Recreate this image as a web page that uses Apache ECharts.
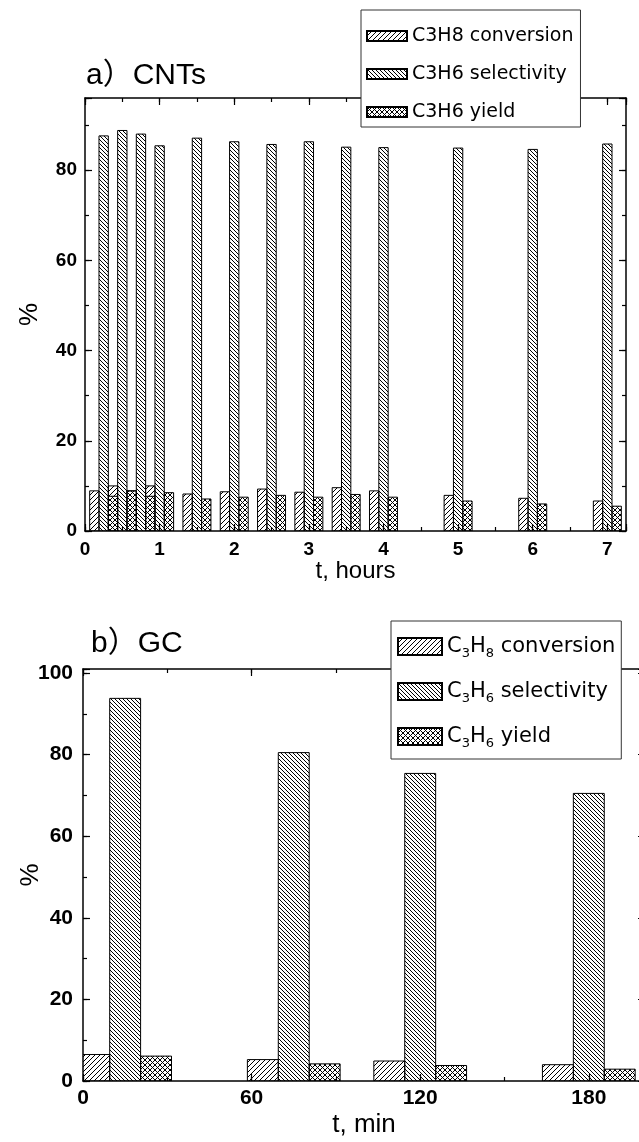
<!DOCTYPE html>
<html>
<head>
<meta charset="utf-8">
<script src="https://cdn.jsdelivr.net/npm/echarts@6/dist/echarts.min.js"></script>
<style>
html,body{margin:0;padding:0;background:#fff;}
#chart{width:639px;height:1142px;}
</style>
</head>
<body>
<div id="chart"></div>
<script>
// ---- data ----
const seriesNames = ['C3H8 conversion', 'C3H6 selectivity', 'C3H6 yield'];

const cntTimes = [0.25, 0.5, 0.75, 1, 1.5, 2, 2.5, 3, 3.5, 4, 5, 6, 7];
const cntConversion = [8.9, 10.0, 8.9, 10.0, 8.2, 8.7, 9.3, 8.6, 9.6, 8.9, 7.9, 7.25, 6.65];
const cntSelectivity = [87.6, 88.8, 88.0, 85.4, 87.1, 86.3, 85.7, 86.3, 85.1, 85.0, 84.9, 84.6, 85.8];
const cntYield = [7.7, 8.9, 7.7, 8.5, 7.1, 7.5, 7.9, 7.5, 8.1, 7.5, 6.65, 6.0, 5.5];

const gcTimes = [15, 75, 120, 180];
const gcConversion = [6.5, 5.25, 4.9, 4.0];
const gcSelectivity = [93.8, 80.5, 75.4, 70.5];
const gcYield = [6.1, 4.2, 3.8, 2.9];

const cntXTicks = { min: 0, max: 7.25, interval: 1, minor: 0.5 };
const cntYTicks = { min: 0, max: 96, interval: 20, minor: 10 };
const gcXTicks = { min: 0, max: 200, interval: 60, minor: 30 };
const gcYTicks = { min: 0, max: 101, interval: 20, minor: 10 };

// ---- patterns ----
function makePattern(kind) {
  const s = kind === 'sel' ? 4 : 5;
  const c = document.createElement('canvas');
  c.width = s; c.height = s;
  const g = c.getContext('2d');
  g.strokeStyle = '#000';
  g.lineWidth = 1;
  function fwd() { // "/"
    g.beginPath();
    g.moveTo(0, s); g.lineTo(s, 0);
    g.moveTo(-1, 1); g.lineTo(1, -1);
    g.moveTo(s - 1, s + 1); g.lineTo(s + 1, s - 1);
    g.stroke();
  }
  function back() { // "\"
    g.beginPath();
    g.moveTo(0, 0); g.lineTo(s, s);
    g.moveTo(-1, s - 1); g.lineTo(1, s + 1);
    g.moveTo(s - 1, -1); g.lineTo(s + 1, 1);
    g.stroke();
  }
  if (kind === 'conv') fwd();
  if (kind === 'sel') back();
  if (kind === 'yield') { fwd(); back(); }
  return { image: c, repeat: 'repeat' };
}
const patterns = [makePattern('conv'), makePattern('sel'), makePattern('yield')];

const FONT = "'Liberation Sans', Arial, 'Noto Sans CJK SC', sans-serif";
const LEGEND_FONT = "'DejaVu Sans', Verdana, sans-serif";

const gridTop = { left: 85, top: 98, width: 541, height: 433, outerBoundsMode: 'none', containLabel: false };
const gridBottom = { left: 83, top: 669, width: 562, height: 412, outerBoundsMode: 'none', containLabel: false };

function multipleFormatter(step) {
  return function (v) {
    const r = v / step;
    return Math.abs(r - Math.round(r)) < 1e-9 ? String(v) : '';
  };
}

function axis(gridIndex, position, ticks, major, opts) {
  opts = opts || {};
  const a = {
    type: 'value', gridIndex: gridIndex, position: position,
    min: ticks.min, max: ticks.max,
    interval: major ? ticks.interval : ticks.minor,
    splitLine: { show: false },
    axisLine: { show: major, onZero: false, lineStyle: { color: '#000', width: 1.5 } },
    axisTick: { show: true, inside: true, length: major ? 7 : 4, lineStyle: { color: '#000', width: 1.2 } },
    axisLabel: { show: false }
  };
  if (opts.labels) {
    a.axisLabel = {
      show: true, margin: opts.margin, color: '#000', fontSize: opts.fontSize,
      fontWeight: 'bold', fontFamily: FONT, formatter: multipleFormatter(ticks.interval)
    };
  }
  if (opts.name) {
    a.name = opts.name;
    a.nameLocation = 'middle';
    a.nameGap = opts.nameGap;
    a.nameMoveOverlap = false;
    a.nameTextStyle = { fontSize: opts.nameSize, fontFamily: FONT, color: '#000' };
  }
  return a;
}

const xAxes = [
  axis(0, 'bottom', cntXTicks, true, { labels: true, margin: 9, fontSize: 19, name: 't, hours', nameGap: 28, nameSize: 24 }),
  axis(0, 'top', cntXTicks, true),
  axis(1, 'bottom', cntXTicks, false),
  axis(1, 'top', cntXTicks, false),
  axis(2, 'bottom', gcXTicks, true, { labels: true, margin: 7, fontSize: 21, name: 't, min', nameGap: 31, nameSize: 26 }),
  axis(2, 'top', gcXTicks, true),
  axis(3, 'bottom', gcXTicks, false),
  axis(3, 'top', gcXTicks, false)
];
const yAxes = [
  axis(0, 'left', cntYTicks, true, { labels: true, margin: 8, fontSize: 19, name: '%', nameGap: 42, nameSize: 26 }),
  axis(0, 'right', cntYTicks, true),
  axis(1, 'left', cntYTicks, false),
  axis(1, 'right', cntYTicks, false),
  axis(2, 'left', gcYTicks, true, { labels: true, margin: 10, fontSize: 21, name: '%', nameGap: 39, nameSize: 26 }),
  axis(2, 'right', gcYTicks, true),
  axis(3, 'left', gcYTicks, false),
  axis(3, 'right', gcYTicks, false)
];

function barSeries(name, times, values, xi, yi, slot, width, pattern) {
  return {
    type: 'custom', name: name, xAxisIndex: xi, yAxisIndex: yi, clip: true,
    data: times.map(function (t, i) { return [t, values[i]]; }),
    encode: { x: 0, y: 1 },
    itemStyle: { color: pattern, borderColor: '#000', borderWidth: 1 },
    renderItem: function (params, api) {
      const c = api.value(0) + slot * width;
      const p0 = api.coord([c - width / 2, 0]);
      const p1 = api.coord([c + width / 2, api.value(1)]);
      return {
        type: 'rect',
        shape: { x: p0[0], y: p1[1], width: p1[0] - p0[0], height: p0[1] - p1[1] },
        style: { fill: pattern, stroke: '#000', lineWidth: 1 }
      };
    }
  };
}

const cntW = 0.125, gcW = 11;
const series = [
  barSeries(seriesNames[0], cntTimes, cntConversion, 0, 0, -1, cntW, patterns[0]),
  barSeries(seriesNames[1], cntTimes, cntSelectivity, 0, 0, 0, cntW, patterns[1]),
  barSeries(seriesNames[2], cntTimes, cntYield, 0, 0, 1, cntW, patterns[2]),
  barSeries(seriesNames[0], gcTimes, gcConversion, 4, 4, -1, gcW, patterns[0]),
  barSeries(seriesNames[1], gcTimes, gcSelectivity, 4, 4, 0, gcW, patterns[1]),
  barSeries(seriesNames[2], gcTimes, gcYield, 4, 4, 1, gcW, patterns[2])
];

function subscriptName(name) {
  return '{n|' + name.replace(/(\d)/g, '}{s|$1}{n|') + '}';
}

const option = {
  backgroundColor: '#fff',
  animation: false,
  title: [
    { text: 'a）CNTs', left: 86, top: 61, padding: 0, textStyle: { fontSize: 30, fontWeight: 'normal', fontFamily: FONT, color: '#000' } },
    { text: 'b）GC', left: 91, top: 629, padding: 0, textStyle: { fontSize: 30, fontWeight: 'normal', fontFamily: FONT, color: '#000' } }
  ],
  legend: [
    {
      data: seriesNames, orient: 'vertical', left: 361, top: 10, icon: 'rect',
      itemWidth: 40, itemHeight: 10, itemGap: 18, padding: [16, 7, 5, 5],
      backgroundColor: '#fff', borderColor: '#333', borderWidth: 1, selectedMode: false,
      textStyle: { fontFamily: LEGEND_FONT, fontSize: 19, color: '#000', lineHeight: 20 }
    },
    {
      data: seriesNames, orient: 'vertical', left: 391, top: 621, icon: 'rect',
      itemWidth: 44, itemHeight: 17, itemGap: 18, padding: [12, 6, 9, 6],
      backgroundColor: '#fff', borderColor: '#333', borderWidth: 1, selectedMode: false,
      formatter: subscriptName,
      textStyle: {
        fontFamily: LEGEND_FONT, color: '#000',
        rich: {
          n: { fontFamily: LEGEND_FONT, fontSize: 21, color: '#000', lineHeight: 25 },
          s: { fontFamily: LEGEND_FONT, fontSize: 13, color: '#000', lineHeight: 25, padding: [14, 0, 0, 0] }
        }
      }
    }
  ],
  grid: [gridTop, gridTop, gridBottom, gridBottom],
  xAxis: xAxes,
  yAxis: yAxes,
  series: series
};

const chart = echarts.init(document.getElementById('chart'));
chart.setOption(option);
</script>
</body>
</html>
